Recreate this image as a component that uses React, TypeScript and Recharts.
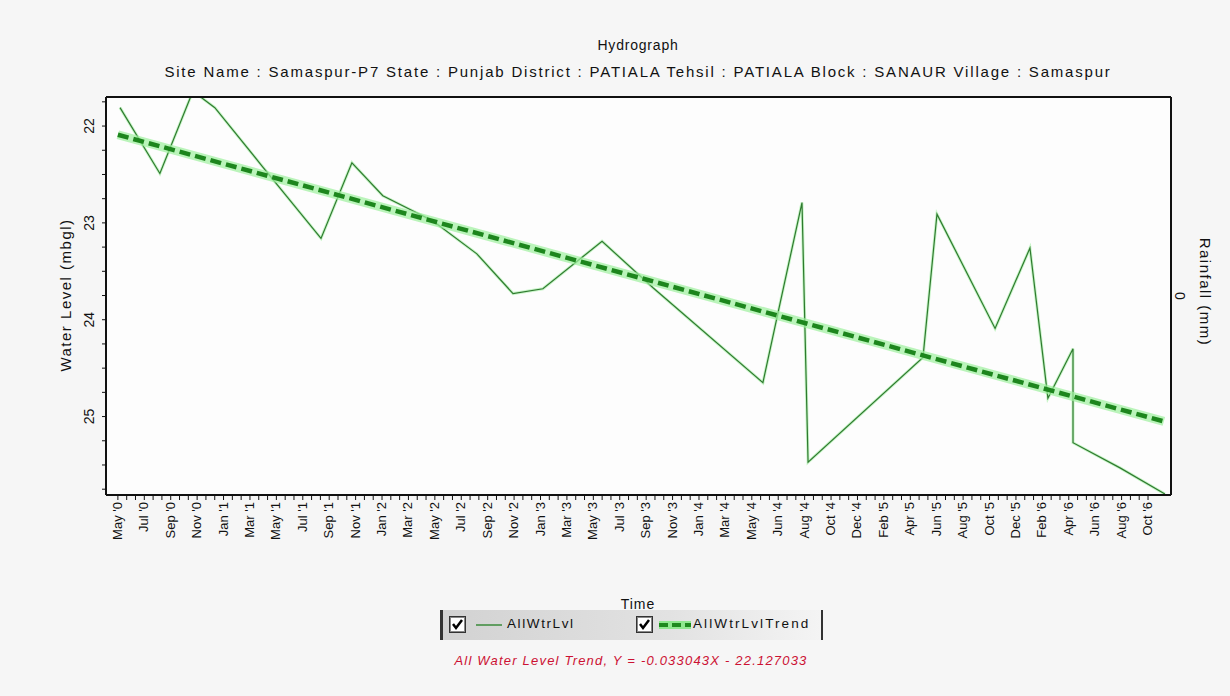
import React from 'react';
import { LineChart, Line, XAxis, YAxis } from 'recharts';

// tick labels along the time axis (as printed, years truncated)
const timeLabels = [
  "May '0", "Jul '0", "Sep '0", "Nov '0",
  "Jan '1", "Mar '1", "May '1", "Jul '1", "Sep '1", "Nov '1",
  "Jan '2", "Mar '2", "May '2", "Jul '2", "Sep '2", "Nov '2",
  "Jan '3", "Mar '3", "May '3", "Jul '3", "Sep '3", "Nov '3",
  "Jan '4", "Mar '4", "May '4", "Jun '4", "Aug '4", "Oct '4", "Dec '4",
  "Feb '5", "Apr '5", "Jun '5", "Aug '5", "Oct '5", "Dec '5",
  "Feb '6", "Apr '6", "Jun '6", "Aug '6", "Oct '6",
];

// water level readings: position on the time axis (label index units) and depth (mbgl)
const levelPos = [0.08, 1.59, 2.84, 3.67, 5.45, 7.69, 8.86, 10.03, 11.93, 13.59, 14.96, 16.09, 18.33, 20.26, 24.42, 24.95, 25.9, 26.13, 30.48, 31.01, 33.21, 34.53, 35.21, 36.16, 36.16, 37.94, 39.64];
const levelVal = [21.81, 22.49, 21.64, 21.81, 22.41, 23.16, 22.38, 22.72, 22.98, 23.32, 23.73, 23.68, 23.19, 23.67, 24.65, 23.98, 22.79, 25.47, 24.39, 22.91, 24.09, 23.26, 24.81, 24.3, 25.27, 25.53, 25.8];

// trend line end points
const trendPos = [0, 39.6];
const trendVal = [22.09, 25.05];

const yTicks = [21.75, 22, 22.25, 22.5, 22.75, 23, 23.25, 23.5, 23.75, 24, 24.25, 24.5, 24.75, 25, 25.25, 25.5, 25.75];

const levelData = levelPos.map((x, i) => ({ x, level: levelVal[i] }));
const trendData = trendPos.map((x, i) => ({ x, trend: trendVal[i] }));
// major tick at each label, two minor ticks between
const xTicks: number[] = [];
timeLabels.forEach((_, i) => {
  xTicks.push(i);
  if (i < timeLabels.length - 1) xTicks.push(i + 1 / 3, i + 2 / 3);
});

const FONT = '"Liberation Sans", Arial, sans-serif';

const isWhole = (v: number) => Math.abs(v - Math.round(v)) < 1e-6;

const XTick = (props: any) => {
  const { x, y, payload } = props;
  if (!isWhole(payload.value)) return null;
  return (
    <text x={x} y={y} transform={`rotate(-90 ${x} ${y})`} textAnchor="end" dy={4} fontSize={13} fontFamily={FONT} fill="#111">
      {timeLabels[Math.round(payload.value)]}
    </text>
  );
};

const YTick = (props: any) => {
  const { x, y, payload } = props;
  if (!Number.isInteger(payload.value)) return null;
  return (
    <text x={x - 6} y={y} transform={`rotate(-90 ${x - 6} ${y})`} textAnchor="middle" fontSize={14} fontFamily={FONT} fill="#111">
      {payload.value}
    </text>
  );
};

const RTick = (props: any) => {
  const { x, y, payload } = props;
  return (
    <text x={x - 4} y={y} transform={`rotate(90 ${x - 4} ${y})`} textAnchor="middle" fontSize={14} fontFamily={FONT} fill="#111">
      {payload.value}
    </text>
  );
};

const CheckBox = () => (
  <svg width={17} height={17} style={{ display: 'block' }}>
    <rect x={0.5} y={0.5} width={16} height={16} fill="#fff" stroke="#333" />
    <rect x={1.5} y={1.5} width={14} height={14} fill="none" stroke="#888" />
    <path d="M4 8 L7 12 L13 4" fill="none" stroke="#000" strokeWidth={2.5} />
  </svg>
);

const LegendBox = () => (
  <div style={{ position: 'absolute', left: 0, top: 610, width: 1230, height: 80, fontFamily: FONT }}>
    <div style={{ position: 'absolute', left: 440, top: 0, width: 383, height: 30, background: 'linear-gradient(to right, #d2d2d2, #e2e2e2 60%, #f4f4f4)', borderLeft: '3px solid #333', borderRight: '2px solid #333', boxSizing: 'border-box' }}>
      <div style={{ position: 'absolute', left: 6, top: 6 }}><CheckBox /></div>
      <svg style={{ position: 'absolute', left: 33, top: 13 }} width={26} height={4}>
        <line x1={0} y1={2} x2={26} y2={2} stroke="#3a8a3a" strokeWidth={1.5} />
      </svg>
      <div style={{ position: 'absolute', left: 64, top: 6, fontSize: 13.5, letterSpacing: 1.6, color: '#111' }}>AllWtrLvl</div>
      <div style={{ position: 'absolute', left: 193, top: 6 }}><CheckBox /></div>
      <svg style={{ position: 'absolute', left: 216, top: 10 }} width={32} height={10}>
        <line x1={0} y1={5} x2={32} y2={5} stroke="#8fe88f" strokeWidth={8} />
        <line x1={0} y1={5} x2={32} y2={5} stroke="#1f8a1f" strokeWidth={4} strokeDasharray="9 4" />
      </svg>
      <div style={{ position: 'absolute', left: 250, top: 6, fontSize: 13.5, letterSpacing: 2.1, color: '#111' }}>AllWtrLvlTrend</div>
    </div>
    <div style={{ position: 'absolute', left: 0, width: 1262, top: 43, textAlign: 'center', fontSize: 13, letterSpacing: 1.2, fontStyle: 'italic', color: '#cc1133' }}>
      All Water Level Trend, Y = -0.033043X - 22.127033
    </div>
  </div>
);

export default function App() {
  return (
    <div style={{ position: 'absolute', left: 0, top: 0, width: 1230, height: 696, background: '#f6f6f6', fontFamily: FONT }}>
      <div style={{ position: 'absolute', left: 0, width: 1276, top: 37, textAlign: 'center', fontSize: 14, letterSpacing: 0.8, color: '#111' }}>Hydrograph</div>
      <div style={{ position: 'absolute', left: 0, width: 1276, top: 63, textAlign: 'center', fontSize: 15, letterSpacing: 1.8, color: '#111' }}>
        Site Name : Samaspur-P7 State : Punjab District : PATIALA Tehsil : PATIALA Block : SANAUR Village : Samaspur
      </div>
      <div style={{ position: 'absolute', left: 65, top: 295, transform: 'translate(-50%, -50%) rotate(-90deg)', whiteSpace: 'nowrap', fontSize: 15, letterSpacing: 1.5, color: '#111' }}>
        Water Level (mbgl)
      </div>
      <div style={{ position: 'absolute', left: 1205, top: 292, transform: 'translate(-50%, -50%) rotate(90deg)', whiteSpace: 'nowrap', fontSize: 15, letterSpacing: 1.5, color: '#111' }}>
        Rainfall (mm)
      </div>
      <div style={{ position: 'absolute', left: 638, top: 596, transform: 'translateX(-50%)', fontSize: 14, letterSpacing: 1, color: '#111' }}>Time</div>
      <div style={{ position: 'absolute', left: 106, top: 96, width: 1065, height: 399, background: '#fdfdfd' }} />
      <div style={{ position: 'absolute', left: 0, top: 0 }}>
        <LineChart width={1230} height={696} margin={{ top: 96, right: 29, bottom: 141, left: 66 }}>
          <XAxis xAxisId="b" type="number" dataKey="x" domain={[-0.45, 39.87]} ticks={xTicks} interval={0} allowDataOverflow
            tick={<XTick />} tickSize={5} tickLine={{ stroke: '#111' }} axisLine={{ stroke: '#111', strokeWidth: 2 }} height={60} />
          <XAxis xAxisId="t" orientation="top" type="number" dataKey="x" domain={[-0.45, 39.87]} allowDataOverflow
            tick={false} tickLine={false} axisLine={{ stroke: '#111', strokeWidth: 2 }} height={1} />
          <YAxis yAxisId="l" reversed domain={[21.7, 25.81]} ticks={yTicks} interval={0} allowDataOverflow
            tick={<YTick />} tickSize={4} tickLine={{ stroke: '#111' }} axisLine={{ stroke: '#111', strokeWidth: 2 }} width={40} />
          <YAxis yAxisId="r" orientation="right" domain={[-1, 1]} ticks={[0]} allowDataOverflow
            tick={<RTick />} tickLine={false} axisLine={{ stroke: '#111', strokeWidth: 2 }} width={30} />
          <Line xAxisId="b" yAxisId="l" data={levelData} dataKey="level" type="linear" stroke="#c8f5c8" strokeWidth={3} dot={false} isAnimationActive={false} />
          <Line xAxisId="b" yAxisId="l" data={levelData} dataKey="level" type="linear" stroke="#2f7a2f" strokeWidth={1.2} dot={false} isAnimationActive={false} />
          <Line xAxisId="b" yAxisId="l" data={trendData} dataKey="trend" type="linear" stroke="#9cf09c" strokeWidth={9} strokeOpacity={0.7} dot={false} isAnimationActive={false} />
          <Line xAxisId="b" yAxisId="l" data={trendData} dataKey="trend" type="linear" stroke="#1d861d" strokeWidth={4.5} strokeDasharray="11 5" dot={false} isAnimationActive={false} />
        </LineChart>
      </div>
      <LegendBox />
    </div>
  );
}
